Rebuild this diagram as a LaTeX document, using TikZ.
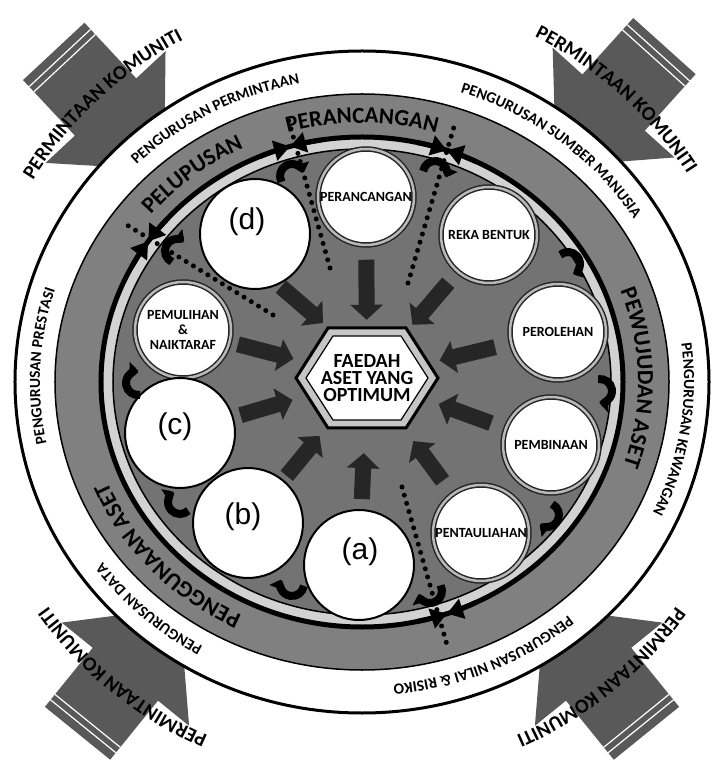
\documentclass[tikz,border=0pt]{standalone}
\usepackage{fontspec}
\setmainfont{Liberation Sans}
\newfontfamily\stagefont{Carlito}
\usetikzlibrary{arrows.meta, decorations.text}

\colorlet{ringgray}{black!50}
\colorlet{diskgray}{black!55}
\colorlet{arrowgray}{black!65}

% text along an elliptic arc, clockwise
\newcommand{\ringtext}[6]{%
    \path[decorate, decoration={text along path, text align=center,
            text={|\stagefont\bfseries\fontsize{#5}{#5}\selectfont|#6}}]
        (#3:#1 and #2) arc[start angle=#3, end angle=#4, x radius=#1, y radius=#2];}
% small curved flow arrow
\newcommand{\flowhook}[3]{%
    \draw[flowhook] ([shift={(#3+100:12)}]#1,#2) arc[start angle=#3+100, end angle=#3-92, radius=12];}
% two heads meeting on the ring
\newcommand{\ringmeet}[1]{%
    \draw[ringtip] (#1+7:261 and 245) arc[start angle=#1+7, end angle=#1, x radius=261, y radius=245];
    \draw[ringtip] (#1-7:261 and 245) arc[start angle=#1-7, end angle=#1, x radius=261, y radius=245];}

\begin{document}
\begin{tikzpicture}[
        x=1pt,
        y=1pt,
        stagecircle/.style={circle, minimum size=96pt, inner sep=0pt, fill=white,
                draw=black!85, line width=1.5pt, double=gray!55, double distance=2.5pt,
                align=center, font=\stagefont\bfseries\fontsize{14}{15}\selectfont},
        tagcircle/.style={circle, minimum size=110pt, fill=white, draw=black, line width=2pt},
        taglabel/.style={inner sep=0pt, font=\fontsize{30}{30}\selectfont},
        hexlabel/.style={rectangle, minimum width=141pt, minimum height=100pt, inner sep=0pt,
                align=center, font=\stagefont\bfseries\fontsize{20}{17}\selectfont},
        fatarrow/.style={draw=black!85, line width=16pt, -{Triangle[length=15pt, width=32pt]}},
        flowhook/.style={draw=black, line width=8pt, -{Triangle[length=9pt, width=17pt]}},
        ringtip/.style={draw=black, line width=5pt, -{Triangle[length=16pt, width=20pt]}},
        dotline/.style={draw=black, line width=5pt, dash pattern=on 0pt off 8.5pt, line cap=round}
    ]
    \useasboundingbox (-362,-380) rectangle (353,382);

    % community demand arrows
    \foreach \ang in {133, 48, -129, -51} {
        \begin{scope}[rotate=\ang]
            \fill[arrowgray] (452,42) -- (376,42) -- (376,82) -- (290,0) -- (376,-82)
                -- (376,-42) -- (452,-42) -- cycle;
            \draw[white, line width=1.2pt] (443,-42) -- (443,42) (436,-42) -- (436,42);
        \end{scope}
    }

    % rings
    \draw[line width=3pt, fill=white] (0,0) ellipse [x radius=347, y radius=331];
    \draw[line width=1.5pt, fill=ringgray] (0,0) ellipse [x radius=307, y radius=288];
    \draw[line width=5pt, fill=gray!35] (0,0) ellipse [x radius=261, y radius=245];
    \draw[line width=1.5pt, fill=diskgray] (0,0) ellipse [x radius=249, y radius=233];

    \foreach \ang in {133, 48, -129, -51} {
        \ringtext{386}{386}{\ang+32}{\ang-32}{20}{PERMINTAAN KOMUNITI}
    }

    \ringtext{322}{304}{148}{88}{15.5}{PENGURUSAN PERMINTAAN}
    \ringtext{322}{304}{87}{17}{15.5}{PENGURUSAN SUMBER MANUSIA}
    \ringtext{322}{304}{26}{-44}{15.5}{PENGURUSAN KEWANGAN}
    \ringtext{322}{304}{-32}{-102}{15.5}{PENGURUSAN NILAI {\&} RISIKO}
    \ringtext{322}{304}{-100}{-164}{15.5}{PENGURUSAN DATA}
    \ringtext{322}{304}{210}{144}{15.5}{PENGURUSAN PRESTASI}

    \ringtext{276}{259}{125}{55}{23}{PERANCANGAN}
    \ringtext{276}{259}{40}{-38}{23}{PEWUJUDAN ASET}
    \ringtext{276}{259}{-100}{-174}{23}{PENGGUNAAN ASET}
    \ringtext{276}{259}{160}{96}{23}{PELUPUSAN}

    % phase borders
    \coordinate (d1in) at (-32,114);
    \coordinate (d1out) at (-74,264);
    \coordinate (d2in) at (46,99);
    \coordinate (d2out) at (94,262);
    \coordinate (d3in) at (40,-105);
    \coordinate (d3out) at (85,-263);
    \coordinate (d4in) at (-89,67);
    \coordinate (d4out) at (-235,157);
    \draw[dotline] (d1in) -- (d1out);
    \draw[dotline] (d2in) -- (d2out);
    \draw[dotline] (d3in) -- (d3out);
    \draw[dotline] (d4in) -- (d4out);

    % centre
    \coordinate (hexc) at (5,4);
    \draw[line width=3pt, fill=gray!45] ([shift={(-71,0)}]hexc) -- ([shift={(-39,50)}]hexc)
        -- ([shift={(39,50)}]hexc) -- ([shift={(71,0)}]hexc) -- ([shift={(39,-50)}]hexc)
        -- ([shift={(-39,-50)}]hexc) -- cycle;
    \draw[line width=1.2pt, fill=white] ([shift={(-61,0)}]hexc) -- ([shift={(-34,42)}]hexc)
        -- ([shift={(34,42)}]hexc) -- ([shift={(61,0)}]hexc) -- ([shift={(34,-42)}]hexc)
        -- ([shift={(-34,-42)}]hexc) -- cycle;
    \node[hexlabel] (hex) at (hexc) {FAEDAH\\ASET YANG\\OPTIMUM};

    % stages
    \node[stagecircle] (plan) at (4,185) {PERANCANGAN};
    \node[stagecircle] (design) at (127,147) {REKA BENTUK};
    \node[stagecircle] (acquire) at (196,50) {PEROLEHAN};
    \node[stagecircle] (build) at (189,-63) {PEMBINAAN};
    \node[stagecircle] (commission) at (119,-151) {PENTAULIAHAN};
    \node[stagecircle] (renew) at (-179,52) {PEMULIHAN\\\&\\NAIKTARAF};
    \node[tagcircle] (tc) at (-182,-51) {};
    \node[tagcircle] (tb) at (-114,-141) {};
    \node[tagcircle] (ta) at (-3,-183) {};
    \node[tagcircle] (td) at (-107,148) {};
    \node[taglabel] (la) at (-2,-170) {(a)};
    \node[taglabel] (lb) at (-119,-135) {(b)};
    \node[taglabel] (lc) at (-187,-45) {(c)};
    \node[taglabel] (ld) at (-115,160) {(d)};

    \draw[fatarrow, shorten <=14pt, shorten >=8pt] (plan) -- (hex);
    \draw[fatarrow, shorten <=14pt, shorten >=4pt] (design) -- (hex);
    \draw[fatarrow, shorten <=16pt, shorten >=2pt] (acquire) -- (hex);
    \draw[fatarrow, shorten <=15pt, shorten >=1pt] (build) -- (hex);
    \draw[fatarrow, shorten <=16pt, shorten >=16pt] (commission) -- (hex);
    \draw[fatarrow, shorten <=10pt, shorten >=25pt] (ta) -- (hex);
    \draw[fatarrow, shorten <=5pt, shorten >=10pt] (tb) -- (hex);
    \draw[fatarrow, shorten <=7pt, shorten >=4pt] (tc) -- (hex);
    \draw[fatarrow, shorten <=8pt, shorten >=3pt] (renew) -- (hex);
    \draw[fatarrow, shorten <=3pt] (td.-65) -- ([shift={(-44,55)}]hex.center);

    % flow between stages
    \flowhook{-70}{206}{109}
    \flowhook{73}{209}{71}
    \flowhook{206}{118}{30}
    \flowhook{238}{-9}{-1}
    \flowhook{185}{-133}{-35}
    \flowhook{68}{-209}{-72}
    \flowhook{-70}{-202}{-109}
    \flowhook{-182}{-120}{-146}
    \flowhook{-224}{-1}{180}
    \flowhook{-185}{131}{145}

    \ringmeet{106}
    \ringmeet{71}
    \ringmeet{-71}
    \ringmeet{145}
\end{tikzpicture}
\end{document}
